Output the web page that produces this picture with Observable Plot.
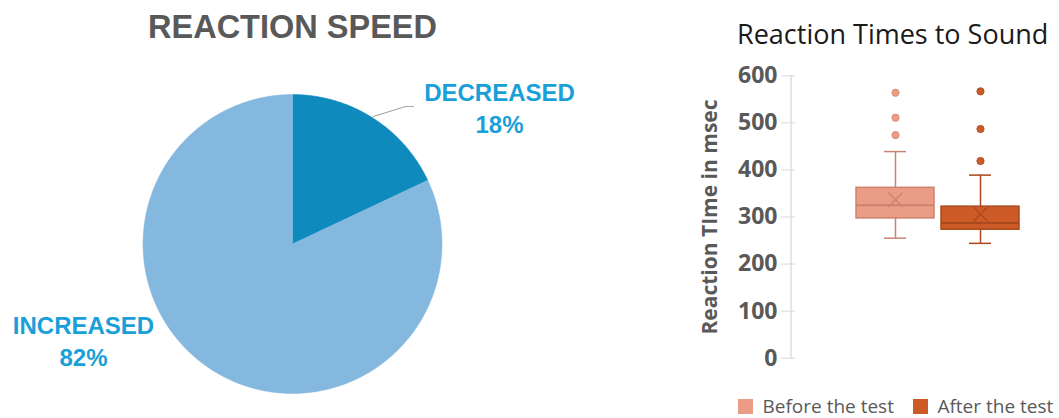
<!DOCTYPE html>
<html>
<head>
<meta charset="utf-8">
<script src="https://cdn.jsdelivr.net/npm/d3@7"></script>
<script src="https://cdn.jsdelivr.net/npm/@observablehq/plot@0.6"></script>
<style>
  html, body { margin: 0; padding: 0; background: #fff; }
  #root { position: relative; width: 1059px; height: 418px; overflow: hidden; }
  .abs { position: absolute; white-space: nowrap; line-height: 1; }
</style>
</head>
<body>
<div id="root"></div>
<script>
// ---------- Data ----------
const pieCategories = ["DECREASED", "INCREASED"];
const pieValues = [18, 82];

const groups = ["Before the test", "After the test"];
const q1 = [297, 273];
const median = [325, 287];
const q3 = [362, 322];
const mean = [337, 306];
const whiskerLow = [255, 244];
const whiskerHigh = [439, 389];
const outliersBefore = [474, 511, 564];
const outliersAfter = [419, 487, 567];
const yTicks = [0, 100, 200, 300, 400, 500, 600];

const pieTitle = "REACTION SPEED";
const boxTitle = "Reaction Times to Sound";
const yLabel = "Reaction TIme in msec";

// ---------- Styles ----------
const pieFills = ["#0e8abd", "#85b8de"];
const pieLabelColor = "#1aa0d8";
const boxFills = ["#eb9c86", "#cc5b27"];
const boxStrokes = ["#c9836f", "#a9491d"];
const dotStrokes = ["#d88d78", "#b24e20"];
const root = document.getElementById("root");

// ---------- Left: pie chart ----------
const cx = 292, cy = 243.5, R = 149.5;
const toX = px => (px - cx) / R;
const toY = py => (cy - py) / R;
const arcs = d3.pie().sort(null).value(d => d)(pieValues);
const sliceMarks = arcs.map((a, i) => {
  const pts = [{x: 0, y: 0}];
  const steps = Math.ceil((a.endAngle - a.startAngle) / (Math.PI / 360));
  for (let s = 0; s <= steps; s++) {
    const t = a.startAngle + (a.endAngle - a.startAngle) * s / steps;
    pts.push({x: Math.sin(t), y: Math.cos(t)});
  }
  pts.push({x: 0, y: 0});
  return Plot.line(pts, {x: "x", y: "y", fill: pieFills[i], stroke: pieFills[i], strokeWidth: 0.5, curve: "linear"});
});
const midDec = (arcs[0].startAngle + arcs[0].endAngle) / 2;
const leader = [
  {x: Math.sin(midDec) * 1.01, y: Math.cos(midDec) * 1.01},
  {x: toX(405), y: toY(106)},
  {x: toX(413), y: toY(106)}
];
const labelPos = [{dx: 499, dy: 106}, {dx: 83, dy: 339}];
const labelMarks = pieCategories.map((c, i) =>
  Plot.text([`${c}\n${pieValues[i]}%`], {
    frameAnchor: "top-left", dx: labelPos[i].dx, dy: labelPos[i].dy,
    textAnchor: "middle", lineAnchor: "middle", lineHeight: 1.35,
    fill: pieLabelColor, fontSize: 24, fontWeight: "bold", fontFamily: "Liberation Sans, Arial, sans-serif"
  })
);
const pie = Plot.plot({
  width: 600, height: 418, margin: 0,
  x: {domain: [-1, 1], range: [cx - R, cx + R], axis: null},
  y: {domain: [-1, 1], range: [cy + R, cy - R], axis: null},
  style: {background: "transparent", overflow: "visible"},
  marks: [
    ...sliceMarks,
    Plot.line(leader, {x: "x", y: "y", stroke: "#a6a6a6", strokeWidth: 1.2, curve: "linear"}),
    ...labelMarks,
    Plot.text([pieTitle], {frameAnchor: "top-left", dx: 292, dy: 37, textAnchor: "middle", lineAnchor: "bottom",
      fill: "#595959", fontSize: 32.5, fontWeight: "bold", fontFamily: "Liberation Sans, Arial, sans-serif"})
  ]
});
pie.style.position = "absolute"; pie.style.left = "0px"; pie.style.top = "0px";
root.appendChild(pie);

// ---------- Right: box plot ----------
const stats = groups.map((g, i) => ({group: g, q1: q1[i], median: median[i], q3: q3[i], mean: mean[i], lo: whiskerLow[i], hi: whiskerHigh[i]}));
const outliers = [outliersBefore, outliersAfter].map((arr, i) => arr.map(v => ({group: groups[i], value: v})));
const boxMarks = stats.flatMap((s, i) => [
  Plot.ruleX([s], {x: "group", y1: "q3", y2: "hi", stroke: boxStrokes[i], strokeWidth: 1.5}),
  Plot.ruleX([s], {x: "group", y1: "lo", y2: "q1", stroke: boxStrokes[i], strokeWidth: 1.5}),
  Plot.tickY([s], {x: "group", y: "hi", inset: 28, stroke: boxStrokes[i], strokeWidth: 1.5}),
  Plot.tickY([s], {x: "group", y: "lo", inset: 28, stroke: boxStrokes[i], strokeWidth: 1.5}),
  Plot.barY([s], {x: "group", y1: "q1", y2: "q3", fill: boxFills[i], stroke: boxStrokes[i], strokeWidth: 1.5}),
  Plot.tickY([s], {x: "group", y: "median", stroke: boxStrokes[i], strokeWidth: 2}),
  Plot.dot([s], {x: "group", y: "mean", symbol: "times", r: 6.5, stroke: boxStrokes[i], strokeWidth: 1.3}),
  Plot.dot(outliers[i], {x: "group", y: "value", r: 3.6, fill: boxFills[i], stroke: dotStrokes[i], strokeWidth: 1})
]);
const box = Plot.plot({
  width: 359, height: 418,
  marginTop: 75.3, marginBottom: 60.3, marginLeft: 90.5, marginRight: 0,
  x: {type: "band", domain: groups, range: [155.5, 320.5], paddingInner: 0.08, paddingOuter: 0, axis: null},
  y: {domain: [0, 600]},
  style: {background: "transparent", overflow: "visible"},
  marks: [
    Plot.frame({anchor: "left", stroke: "#d9d9d9", strokeWidth: 1.3}),
    Plot.axisY(yTicks, {anchor: "left", label: null, tickSize: 14, tickPadding: 4, dx: 4.5,
      stroke: "#d9d9d9", fill: "#595959", fontSize: 23, fontWeight: "bold", fontFamily: "Open Sans, sans-serif"}),
    Plot.text([yLabel], {frameAnchor: "left", rotate: -90, dx: -81, textAnchor: "middle", lineAnchor: "middle",
      fill: "#595959", fontSize: 21, fontWeight: "bold", fontFamily: "Open Sans, sans-serif"}),
    ...boxMarks
  ]
});
box.style.position = "absolute"; box.style.left = "700px"; box.style.top = "0px";
root.appendChild(box);

// Title
const t = document.createElement("div");
t.className = "abs";
t.textContent = boxTitle;
Object.assign(t.style, {left: "737px", top: "20px", fontFamily: "Open Sans, sans-serif", fontSize: "27px", color: "#1a1a1a"});
root.appendChild(t);

// Legend
const leg = Plot.legend({
  color: {type: "ordinal", domain: groups, range: boxFills},
  legend: "swatches", swatchSize: 15,
  style: {fontFamily: "Open Sans, sans-serif", fontSize: "19px", color: "#595959", margin: "0", flexWrap: "nowrap", whiteSpace: "nowrap"}
});
const legWrap = document.createElement("div");
legWrap.className = "abs";
Object.assign(legWrap.style, {left: "738px", top: "389.5px", width: "330px", lineHeight: "normal"});
legWrap.appendChild(leg);
root.appendChild(legWrap);
</script>
</body>
</html>
